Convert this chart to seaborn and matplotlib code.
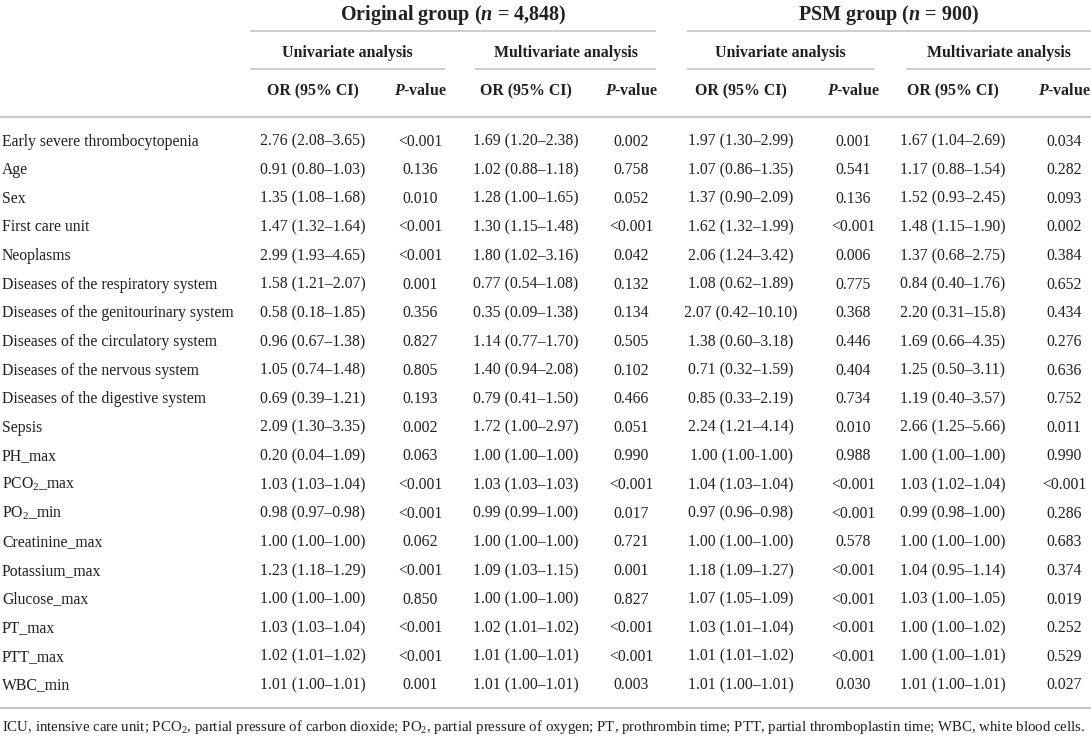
import matplotlib
matplotlib.use("Agg")
import matplotlib.pyplot as plt
import seaborn as sns
import pandas as pd

# ---------------- data ----------------
variables = [
    "Early severe thrombocytopenia", "Age", "Sex", "First care unit", "Neoplasms",
    "Diseases of the respiratory system", "Diseases of the genitourinary system",
    "Diseases of the circulatory system", "Diseases of the nervous system",
    "Diseases of the digestive system", "Sepsis", "PH_max", "PCO$_2$_max",
    "PO$_2$_min", "Creatinine_max", "Potassium_max", "Glucose_max", "PT_max",
    "PTT_max", "WBC_min",
]
orig_uni_or = [
    "2.76 (2.08–3.65)", "0.91 (0.80–1.03)", "1.35 (1.08–1.68)", "1.47 (1.32–1.64)",
    "2.99 (1.93–4.65)", "1.58 (1.21–2.07)", "0.58 (0.18–1.85)", "0.96 (0.67–1.38)",
    "1.05 (0.74–1.48)", "0.69 (0.39–1.21)", "2.09 (1.30–3.35)", "0.20 (0.04–1.09)",
    "1.03 (1.03–1.04)", "0.98 (0.97–0.98)", "1.00 (1.00–1.00)", "1.23 (1.18–1.29)",
    "1.00 (1.00–1.00)", "1.03 (1.03–1.04)", "1.02 (1.01–1.02)", "1.01 (1.00–1.01)",
]
orig_uni_p = [
    "<0.001", "0.136", "0.010", "<0.001", "<0.001", "0.001", "0.356", "0.827",
    "0.805", "0.193", "0.002", "0.063", "<0.001", "<0.001", "0.062", "<0.001",
    "0.850", "<0.001", "<0.001", "0.001",
]
orig_multi_or = [
    "1.69 (1.20–2.38)", "1.02 (0.88–1.18)", "1.28 (1.00–1.65)", "1.30 (1.15–1.48)",
    "1.80 (1.02–3.16)", "0.77 (0.54–1.08)", "0.35 (0.09–1.38)", "1.14 (0.77–1.70)",
    "1.40 (0.94–2.08)", "0.79 (0.41–1.50)", "1.72 (1.00–2.97)", "1.00 (1.00–1.00)",
    "1.03 (1.03–1.03)", "0.99 (0.99–1.00)", "1.00 (1.00–1.00)", "1.09 (1.03–1.15)",
    "1.00 (1.00–1.00)", "1.02 (1.01–1.02)", "1.01 (1.00–1.01)", "1.01 (1.00–1.01)",
]
orig_multi_p = [
    "0.002", "0.758", "0.052", "<0.001", "0.042", "0.132", "0.134", "0.505",
    "0.102", "0.466", "0.051", "0.990", "<0.001", "0.017", "0.721", "0.001",
    "0.827", "<0.001", "<0.001", "0.003",
]
psm_uni_or = [
    "1.97 (1.30–2.99)", "1.07 (0.86–1.35)", "1.37 (0.90–2.09)", "1.62 (1.32–1.99)",
    "2.06 (1.24–3.42)", "1.08 (0.62–1.89)", "2.07 (0.42–10.10)", "1.38 (0.60–3.18)",
    "0.71 (0.32–1.59)", "0.85 (0.33–2.19)", "2.24 (1.21–4.14)", "1.00 (1.00-1.00)",
    "1.04 (1.03–1.04)", "0.97 (0.96–0.98)", "1.00 (1.00–1.00)", "1.18 (1.09–1.27)",
    "1.07 (1.05–1.09)", "1.03 (1.01–1.04)", "1.01 (1.01–1.02)", "1.01 (1.00–1.01)",
]
psm_uni_p = [
    "0.001", "0.541", "0.136", "<0.001", "0.006", "0.775", "0.368", "0.446",
    "0.404", "0.734", "0.010", "0.988", "<0.001", "<0.001", "0.578", "<0.001",
    "<0.001", "<0.001", "<0.001", "0.030",
]
psm_multi_or = [
    "1.67 (1.04–2.69)", "1.17 (0.88–1.54)", "1.52 (0.93–2.45)", "1.48 (1.15–1.90)",
    "1.37 (0.68–2.75)", "0.84 (0.40–1.76)", "2.20 (0.31–15.8)", "1.69 (0.66–4.35)",
    "1.25 (0.50–3.11)", "1.19 (0.40–3.57)", "2.66 (1.25–5.66)", "1.00 (1.00–1.00)",
    "1.03 (1.02–1.04)", "0.99 (0.98–1.00)", "1.00 (1.00–1.00)", "1.04 (0.95–1.14)",
    "1.03 (1.00–1.05)", "1.00 (1.00–1.02)", "1.00 (1.00–1.01)", "1.01 (1.00–1.01)",
]
psm_multi_p = [
    "0.034", "0.282", "0.093", "0.002", "0.384", "0.652", "0.434", "0.276",
    "0.636", "0.752", "0.011", "0.990", "<0.001", "0.286", "0.683", "0.374",
    "0.019", "0.252", "0.529", "0.027",
]
group_titles = [r"Original group ($\mathbfit{n}$ = 4,848)", r"PSM group ($\mathbfit{n}$ = 900)"]
analysis_titles = ["Univariate analysis", "Multivariate analysis"]
col_titles = ["OR (95% CI)", r"$\mathbfit{P}$-value"]
footnote = ("ICU, intensive care unit; PCO$_2$, partial pressure of carbon dioxide; "
            "PO$_2$, partial pressure of oxygen; PT, prothrombin time; PTT, partial "
            "thromboplastin time; WBC, white blood cells.")

df = pd.DataFrame({
    "Variable": variables,
    "o_u_or": orig_uni_or, "o_u_p": orig_uni_p,
    "o_m_or": orig_multi_or, "o_m_p": orig_multi_p,
    "p_u_or": psm_uni_or, "p_u_p": psm_uni_p,
    "p_m_or": psm_multi_or, "p_m_p": psm_multi_p,
})

# ---------------- style ----------------
sns.set_theme(style="white")
plt.rcParams["font.family"] = ["Liberation Serif", "DejaVu Serif"]
plt.rcParams["mathtext.fontset"] = "custom"
plt.rcParams["mathtext.rm"] = "Liberation Serif"
plt.rcParams["mathtext.it"] = "Liberation Serif:italic"
plt.rcParams["mathtext.bf"] = "Liberation Serif:bold"
plt.rcParams["mathtext.bfit"] = "Liberation Serif:italic:bold"

TXT = "#231f20"
LINE = "#c9c9c9"

fig = plt.figure(figsize=(10.91, 7.39), dpi=100)
ax = fig.add_axes([0, 0, 1, 1])
ax.set_xlim(0, 1091)
ax.set_ylim(739, 0)
ax.axis("off")

col_x = [313, 420, 526, 631, 741, 853, 953, 1064]
group_spans = [(250, 656), (687, 1091)]
analysis_spans = [(250, 445), (475, 656), (687, 874), (906, 1091)]

body_fs = 11.3
head_fs = 11.4
title_fs = 14.5

# group titles
for (x0, x1), t in zip(group_spans, group_titles):
    ax.text((x0 + x1) / 2, 20, t, ha="center", va="baseline", fontsize=title_fs,
            fontweight="bold", color=TXT)
    ax.hlines(31, x0, x1, color=LINE, lw=1.3)

# analysis titles
for i, (x0, x1) in enumerate(analysis_spans):
    ax.text((x0 + x1) / 2, 57, analysis_titles[i % 2], ha="center", va="baseline",
            fontsize=head_fs, fontweight="bold", color=TXT)
    ax.hlines(69, x0, x1, color=LINE, lw=1.3)

# column titles
for i, x in enumerate(col_x):
    ax.text(x, 95, col_titles[i % 2], ha="center", va="baseline", fontsize=head_fs,
            fontweight="bold", color=TXT)

ax.hlines(117, 0, 1091, color=LINE, lw=1.6)

# body
y0, dy = 145.5, 28.63
cols = ["o_u_or", "o_u_p", "o_m_or", "o_m_p", "p_u_or", "p_u_p", "p_m_or", "p_m_p"]
for r, row in df.iterrows():
    y = y0 + r * dy
    ax.text(2, y, row["Variable"], ha="left", va="baseline", fontsize=body_fs, color=TXT)
    for c, x in zip(cols, col_x):
        ax.text(x, y, row[c], ha="center", va="baseline", fontsize=body_fs, color=TXT)

ax.hlines(708, 0, 1091, color=LINE, lw=1.6)
ax.text(2, 731, footnote, ha="left", va="baseline", fontsize=10.7, color=TXT)

fig.savefig("out.png", dpi=100, facecolor="white")
